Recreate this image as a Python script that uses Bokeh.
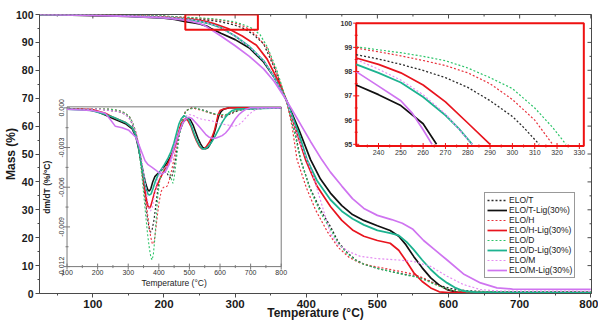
from math import pi
from bokeh.plotting import figure
from bokeh.models import Range1d, FixedTicker, Legend, LegendItem
from bokeh.embed import file_html
from bokeh.resources import INLINE
from bokeh.core.properties import value

# ---------------- TG curves: temperature (°C) vs residual mass (%) ----------------
elo_t_temp = [25, 100, 150, 200, 230, 240, 250, 260, 270, 280, 290, 300, 305, 312, 325, 340, 355, 372,
              385, 392, 405, 420, 434, 445, 458, 470, 481, 500, 520, 540, 556, 570, 579, 590, 603, 625, 650, 800]
elo_t_mass = [100, 99.9, 99.7, 99.3, 98.7, 98.52, 98.3, 98.05, 97.75, 97.35, 96.8, 96.15, 95.7, 95.0, 93.0, 89.5, 81.0, 69.3,
              57.0, 48.0, 38.0, 30.0, 24.0, 18.5, 14.5, 12.0, 10.5, 9.0, 7.8, 6.8, 6.0, 4.8, 3.8, 2.7, 1.8, 1.0, 0.7, 0.5]

elo_t_lig_temp = [25, 100, 150, 200, 215, 230, 240, 250, 260, 266, 280, 300, 320, 340, 355, 365, 372, 390, 406, 420,
                  434, 450, 465, 481, 500, 518, 530, 540, 551, 563, 575, 587, 598, 610, 625, 800]
elo_t_lig_mass = [100, 99.6, 99.3, 98.7, 98.2, 97.45, 97.05, 96.6, 95.85, 95.0, 93.3, 91.0, 88.0, 83.0, 77.5, 73.0, 69.3, 58.5, 48.0, 41.0,
                  36.0, 31.5, 28.3, 26.2, 24.3, 22.6, 20.5, 17.5, 13.3, 9.2, 5.6, 3.0, 1.4, 0.6, 0.3, 0.3]

elo_h_temp = [25, 100, 150, 200, 230, 240, 250, 260, 270, 280, 290, 300, 310, 318, 330, 345, 358, 372, 380, 387,
              400, 413, 430, 445, 460, 475, 490, 510, 530, 550, 565, 580, 595, 610, 630, 800]
elo_h_mass = [100, 99.9, 99.7, 99.4, 98.97, 98.82, 98.65, 98.46, 98.25, 97.95, 97.5, 96.85, 96.0, 95.0, 92.5, 88.0, 79.5, 69.3, 60.0, 48.0,
              38.0, 30.0, 22.0, 16.5, 13.0, 11.0, 10.0, 9.0, 8.0, 7.0, 5.5, 3.5, 1.8, 0.8, 0.4, 0.3]

elo_h_lig_temp = [25, 100, 150, 200, 230, 240, 250, 260, 270, 280, 290, 310, 330, 345, 360, 372, 385, 399, 415, 434,
                  450, 465, 481, 500, 518, 530, 540, 551, 563, 575, 587, 600, 800]
elo_h_lig_mass = [100, 99.8, 99.5, 99.1, 98.56, 98.3, 97.95, 97.45, 96.75, 95.88, 95.0, 92.3, 89.0, 84.0, 76.5, 69.3, 59.0, 48.0, 38.5, 31.2,
                  26.2, 22.8, 20.5, 19.0, 18.0, 15.5, 11.8, 7.5, 4.3, 2.0, 0.6, 0.3, 0.3]

elo_d_temp = [25, 100, 150, 200, 230, 240, 250, 260, 270, 280, 290, 300, 310, 318, 324, 335, 345, 358, 372, 384,
              392, 405, 420, 434, 445, 458, 470, 481, 500, 520, 540, 556, 570, 580, 590, 603, 625, 800]
elo_d_mass = [100, 99.9, 99.8, 99.5, 99.02, 98.9, 98.78, 98.63, 98.45, 98.15, 97.75, 97.3, 96.5, 95.7, 95.0, 92.8, 88.5, 80.5, 69.3, 57.0,
              48.0, 37.5, 29.0, 23.0, 18.0, 14.2, 11.8, 10.5, 9.0, 7.8, 6.6, 5.8, 4.5, 3.3, 2.3, 1.3, 0.6, 0.4]

elo_d_lig_temp = [25, 100, 150, 200, 230, 240, 250, 260, 270, 276, 282, 300, 320, 340, 355, 372, 390, 401, 415, 434,
                  450, 465, 481, 500, 518, 530, 541, 551, 563, 575, 587, 598, 610, 621, 640, 800]
elo_d_lig_mass = [100, 99.8, 99.4, 98.9, 98.3, 97.95, 97.55, 96.95, 96.2, 95.65, 95.0, 92.3, 88.5, 83.5, 77.5, 69.3, 57.0, 48.0, 40.5, 33.6,
                  29.5, 26.8, 24.6, 22.6, 21.6, 20.8, 18.5, 15.7, 12.0, 8.6, 5.8, 3.8, 2.0, 0.9, 0.4, 0.3]

elo_m_temp = [25, 100, 150, 200, 230, 240, 250, 260, 270, 282, 300, 320, 340, 355, 372, 390, 410, 424, 434, 445,
              460, 476, 500, 530, 551, 575, 598, 621, 645, 670, 800]
elo_m_mass = [100, 99.8, 99.6, 99.2, 98.5, 98.1, 97.65, 97.05, 96.25, 95.0, 92.3, 88.5, 83.5, 77.5, 69.3, 55.0, 42.0, 30.0, 21.5, 17.5,
              15.0, 13.3, 12.5, 12.0, 11.5, 9.7, 6.2, 3.2, 1.4, 0.9, 0.8]

elo_m_lig_temp = [25, 100, 150, 200, 230, 240, 250, 255, 260, 264, 280, 300, 320, 340, 355, 372, 390, 406, 422, 434,
                  450, 465, 481, 500, 520, 535, 550, 565, 580, 598, 621, 645, 668, 690, 800]
elo_m_lig_mass = [100, 99.7, 99.3, 98.8, 98.0, 97.4, 96.8, 96.3, 95.6, 95.0, 92.3, 88.8, 85.0, 80.5, 76.0, 69.3, 61.5, 54.5, 47.9, 43.5,
                  38.5, 34.0, 30.5, 28.0, 26.5, 25.2, 23.0, 19.0, 15.8, 12.0, 7.0, 3.8, 2.0, 1.6, 1.5]

# ---------------- DTG curves: temperature (°C) vs dm/dT (%/°C) ----------------
dtg_t_temp = [100, 200, 240, 270, 291, 305, 316, 326, 334, 342, 349, 356, 362, 368, 373, 378, 384, 390, 396, 402,
              410, 418, 426, 433, 439, 444, 449, 455, 462, 470, 478, 487, 497, 510, 530, 550, 574, 595, 607, 620,
              640, 660, 680, 800]
dtg_t_rate = [-0.0001, -0.0001, -0.0002, -0.0003, -0.0005, -0.0008, -0.0014, -0.0022, -0.0031, -0.0043, -0.0056, -0.0070,
              -0.0082, -0.0091, -0.0094, -0.0092, -0.0085, -0.0074, -0.0063, -0.0055, -0.0050, -0.0048, -0.0049, -0.0052,
              -0.0053, -0.0051, -0.0046, -0.0038, -0.0027, -0.0016, -0.0008, -0.0003, -0.0001, 0.0, -0.0001, -0.0002,
              -0.0004, -0.0006, -0.0007, -0.0006, -0.0004, -0.0002, -0.0001, 0.0]

dtg_t_lig_temp = [100, 150, 180, 200, 225, 250, 270, 291, 313, 325, 334, 343, 351, 358, 364, 369, 374, 380, 387, 395,
                  405, 416, 428, 438, 446, 454, 462, 471, 479, 487, 495, 503, 512, 520, 528, 536, 544, 553, 561, 569,
                  577, 585, 591, 596, 603, 612, 630, 800]
dtg_t_lig_rate = [-0.0001, -0.0001, -0.0002, -0.0003, -0.00055, -0.0008, -0.0010, -0.0012, -0.0016, -0.0022, -0.0031,
                  -0.0042, -0.0051, -0.0058, -0.0062, -0.0063, -0.0061, -0.0056, -0.0052, -0.0050, -0.0048, -0.0045,
                  -0.0041, -0.0037, -0.0033, -0.0028, -0.0022, -0.0016, -0.0011, -0.0009, -0.0008, -0.0009, -0.0013,
                  -0.0018, -0.0023, -0.0027, -0.0030, -0.0031, -0.0030, -0.0027, -0.0022, -0.0016, -0.0010, -0.0006,
                  -0.0003, -0.0001, 0.0, 0.0]

dtg_h_temp = [100, 200, 240, 270, 291, 305, 316, 326, 336, 345, 353, 360, 367, 373, 379, 384, 389, 395, 401, 408,
              415, 422, 428, 435, 443, 452, 460, 468, 477, 487, 497, 510, 540, 570, 600, 625, 645, 665, 800]
dtg_h_rate = [-0.0001, -0.0001, -0.0001, -0.0002, -0.0004, -0.0007, -0.0012, -0.0019, -0.0030, -0.0045, -0.0061, -0.0075,
              -0.0087, -0.0097, -0.0103, -0.0102, -0.0094, -0.0082, -0.0071, -0.0063, -0.0060, -0.0060, -0.0059, -0.0054,
              -0.0046, -0.0036, -0.0025, -0.0015, -0.0008, -0.0003, -0.0001, 0.0, -0.0002, -0.0004, -0.0006, -0.0005,
              -0.0003, -0.0001, 0.0]

dtg_h_lig_temp = [100, 180, 225, 250, 270, 291, 313, 325, 334, 343, 351, 358, 364, 369, 374, 380, 387, 395, 405, 416,
                  428, 438, 447, 456, 465, 473, 481, 488, 496, 505, 514, 523, 532, 541, 548, 556, 565, 574, 582, 589,
                  594, 600, 610, 630, 800]
dtg_h_lig_rate = [-0.0001, -0.0001, -0.0004, -0.0007, -0.0009, -0.0011, -0.0015, -0.0020, -0.0029, -0.0042, -0.0056,
                  -0.0067, -0.0074, -0.0076, -0.0074, -0.0069, -0.0063, -0.0058, -0.0053, -0.0048, -0.0043, -0.0038,
                  -0.0033, -0.0026, -0.0018, -0.0012, -0.0009, -0.0008, -0.0010, -0.0014, -0.0020, -0.0025, -0.0029,
                  -0.0031, -0.0031, -0.0029, -0.0026, -0.0022, -0.0017, -0.0010, -0.0005, -0.0002, -0.0001, 0.0, 0.0]

dtg_d_temp = [100, 200, 240, 270, 291, 305, 316, 326, 335, 343, 350, 357, 363, 369, 374, 378, 382, 387, 392, 397,
              403, 410, 418, 426, 434, 440, 446, 450, 455, 461, 467, 474, 482, 490, 500, 520, 545, 570, 596, 620,
              640, 662, 690, 800]
dtg_d_rate = [-0.0001, -0.0001, -0.0001, -0.0002, -0.0004, -0.0007, -0.0012, -0.0020, -0.0032, -0.0048, -0.0064, -0.0081,
              -0.0095, -0.0106, -0.0113, -0.0115, -0.0111, -0.0099, -0.0082, -0.0066, -0.0055, -0.0049, -0.0046, -0.0046,
              -0.0049, -0.0053, -0.0057, -0.0053, -0.0044, -0.0032, -0.0021, -0.0012, -0.0006, -0.0002, -0.0001, 0.0,
              -0.0002, -0.0004, -0.0005, -0.0005, -0.0003, -0.0002, -0.0001, 0.0]

dtg_d_lig_temp = [100, 180, 225, 250, 270, 291, 313, 325, 334, 343, 351, 358, 364, 369, 375, 381, 388, 397, 407, 418,
                  430, 440, 449, 458, 466, 474, 482, 490, 498, 507, 516, 525, 534, 543, 550, 558, 566, 575, 585, 596,
                  607, 618, 629, 640, 655, 800]
dtg_d_lig_rate = [-0.0001, -0.0002, -0.0005, -0.0007, -0.0009, -0.0011, -0.0015, -0.0021, -0.0030, -0.0042, -0.0053,
                  -0.0061, -0.0065, -0.0066, -0.0065, -0.0061, -0.0056, -0.0051, -0.0047, -0.0043, -0.0038, -0.0033,
                  -0.0027, -0.0019, -0.0012, -0.0008, -0.0006, -0.0007, -0.0009, -0.0014, -0.0020, -0.0025, -0.0029,
                  -0.0031, -0.0031, -0.0030, -0.0028, -0.0025, -0.0021, -0.0016, -0.0011, -0.0007, -0.0004, -0.0002,
                  -0.0001, 0.0]

dtg_m_temp = [100, 200, 240, 270, 291, 310, 325, 336, 346, 355, 362, 368, 373, 379, 386, 393, 402, 411, 420, 430,
              440, 450, 460, 470, 480, 490, 500, 515, 530, 550, 575, 600, 625, 645, 660, 675, 690, 705, 720, 740, 800]
dtg_m_rate = [-0.0001, -0.0001, -0.0002, -0.0003, -0.0005, -0.0010, -0.0018, -0.0028, -0.0042, -0.0056, -0.0068, -0.0076,
              -0.0078, -0.0075, -0.0066, -0.0057, -0.0050, -0.0046, -0.0045, -0.0044, -0.0041, -0.0035, -0.0026, -0.0017,
              -0.0010, -0.0006, -0.0005, -0.0006, -0.0008, -0.0009, -0.0010, -0.0012, -0.0013, -0.0014, -0.0013, -0.0010,
              -0.0006, -0.0003, -0.0001, 0.0, 0.0]

dtg_m_lig_temp = [100, 180, 204, 225, 242, 258, 280, 302, 324, 335, 345, 355, 365, 378, 390, 400, 411, 422, 433, 443,
                  451, 461, 470, 480, 490, 498, 508, 520, 531, 542, 553, 563, 575, 585, 596, 607, 618, 629, 640, 651,
                  662, 672, 685, 700, 800]
dtg_m_lig_rate = [-0.0001, -0.0002, -0.0003, -0.0004, -0.0009, -0.0014, -0.0015, -0.0017, -0.0022, -0.0028, -0.0034,
                  -0.0040, -0.0043, -0.0045, -0.0047, -0.0049, -0.0050, -0.0048, -0.0043, -0.0036, -0.0029, -0.0022,
                  -0.0016, -0.0011, -0.0008, -0.0007, -0.0008, -0.0011, -0.0014, -0.0017, -0.0020, -0.0022, -0.0023,
                  -0.0023, -0.0022, -0.0021, -0.0019, -0.0016, -0.0012, -0.0008, -0.0005, -0.0003, -0.0001, 0.0, 0.0]

# ---------------- series labels, axis ticks ----------------
series_labels = ["ELO/T", "ELO/T-Lig(30%)", "ELO/H", "ELO/H-Lig(30%)",
                 "ELO/D", "ELO/D-Lig(30%)", "ELO/M", "ELO/M-Lig(30%)"]

main_x_ticks = [100, 200, 300, 400, 500, 600, 700, 800]
main_x_minor = [50, 150, 250, 350, 450, 550, 650, 750]
main_y_ticks = [0, 10, 20, 30, 40, 50, 60, 70, 80, 90, 100]
main_y_minor = [5, 15, 25, 35, 45, 55, 65, 75, 85, 95]

dtg_x_ticks = [100, 200, 300, 400, 500, 600, 700, 800]
dtg_x_minor = [150, 250, 350, 450, 550, 650, 750]
dtg_x_labels = ["100", "200", "300", "400", "500", "600", "700", "800"]
dtg_y_ticks = [0.0, -0.003, -0.006, -0.009, -0.012]
dtg_y_minor = [-0.0015, -0.0045, -0.0075, -0.0105]
dtg_y_labels = ["0.000", "-0.003", "-0.006", "-0.009", "-0.012"]

zoom_x_ticks = [240, 250, 260, 270, 280, 290, 300, 310, 320, 330]
zoom_x_minor = [235, 245, 255, 265, 275, 285, 295, 305, 315, 325]
zoom_x_labels = ["240", "250", "260", "270", "280", "290", "300", "310", "320", "330"]
zoom_y_ticks = [95, 96, 97, 98, 99, 100]
zoom_y_minor = [95.5, 96.5, 97.5, 98.5, 99.5]
zoom_y_labels = ["95", "96", "97", "98", "99", "100"]

# ---------------- styling ----------------
FONT = "Liberation Sans"
AXIS_GREY = "#4a4a4a"
TXT = "#1a1a1a"

styles = [
    dict(color="#2b2b2b", dash="2 2", width=1.3),   # ELO/T
    dict(color="#111111", dash="solid", width=1.7),  # ELO/T-Lig
    dict(color="#e8323c", dash="2 2", width=1.2),   # ELO/H
    dict(color="#e8141e", dash="solid", width=1.7),  # ELO/H-Lig
    dict(color="#2ec46a", dash="2 2", width=1.2),   # ELO/D
    dict(color="#1db390", dash="solid", width=1.8),  # ELO/D-Lig
    dict(color="#e58df2", dash="2 2", width=1.2),   # ELO/M
    dict(color="#cf74f0", dash="solid", width=1.7),  # ELO/M-Lig
]

tg_series = [(elo_t_temp, elo_t_mass), (elo_t_lig_temp, elo_t_lig_mass),
             (elo_h_temp, elo_h_mass), (elo_h_lig_temp, elo_h_lig_mass),
             (elo_d_temp, elo_d_mass), (elo_d_lig_temp, elo_d_lig_mass),
             (elo_m_temp, elo_m_mass), (elo_m_lig_temp, elo_m_lig_mass)]
dtg_series = [(dtg_t_temp, dtg_t_rate), (dtg_t_lig_temp, dtg_t_lig_rate),
              (dtg_h_temp, dtg_h_rate), (dtg_h_lig_temp, dtg_h_lig_rate),
              (dtg_d_temp, dtg_d_rate), (dtg_d_lig_temp, dtg_d_lig_rate),
              (dtg_m_temp, dtg_m_rate), (dtg_m_lig_temp, dtg_m_lig_rate)]

# ---------------- main TG figure ----------------
X0, X1 = 25, 801
p = figure(width=598, height=322, output_backend="svg", toolbar_location=None,
           x_range=Range1d(X0, X1), y_range=Range1d(0, 100),
           min_border_left=0, min_border_right=7, min_border_top=14, min_border_bottom=0,
           background_fill_color="white", border_fill_color="white")
p.grid.visible = False
p.outline_line_color = AXIS_GREY
p.outline_line_width = 1

xa = p.xaxis[0]
ya = p.yaxis[0]
xa.ticker = FixedTicker(ticks=main_x_ticks, minor_ticks=main_x_minor)
ya.ticker = FixedTicker(ticks=main_y_ticks, minor_ticks=main_y_minor)
for ax in (xa, ya):
    ax.axis_line_color = AXIS_GREY
    ax.major_tick_line_color = AXIS_GREY
    ax.minor_tick_line_color = AXIS_GREY
    ax.major_tick_out = 4
    ax.major_tick_in = 0
    ax.minor_tick_out = 2
    ax.minor_tick_in = 0
    ax.major_label_text_font = FONT
    ax.major_label_text_font_style = "bold"
    ax.major_label_text_color = TXT
    ax.axis_label_text_font = FONT
    ax.axis_label_text_font_style = "bold"
    ax.axis_label_text_color = TXT
    ax.major_label_standoff = 2
xa.axis_label_standoff = -5
ya.axis_label_standoff = -5
xa.major_label_text_font_size = "11.5px"
ya.major_label_text_font_size = "10.5px"
xa.axis_label = "Temperature (°C)"
ya.axis_label = "Mass (%)"
xa.axis_label_text_font_size = "12px"
ya.axis_label_text_font_size = "12px"

# inward ticks on the top and right edges of the frame (half of each dash is clipped away)
p.scatter(x=main_x_ticks, y=[100] * len(main_x_ticks), marker="dash", angle=pi / 2, size=8,
          line_color=AXIS_GREY)
p.scatter(x=main_x_minor, y=[100] * len(main_x_minor), marker="dash", angle=pi / 2, size=4,
          line_color=AXIS_GREY)
p.scatter(x=[X1] * len(main_y_ticks), y=main_y_ticks, marker="dash", size=8, line_color=AXIS_GREY)
p.scatter(x=[X1] * len(main_y_minor), y=main_y_minor, marker="dash", size=4, line_color=AXIS_GREY)

renderers = []
for (tx, my), st in zip(tg_series, styles):
    r = p.line(tx, my, line_color=st["color"], line_width=st["width"], line_dash=st["dash"])
    renderers.append(r)

# zoom window marker on the main plot
ZOOM_T0, ZOOM_T1 = 230, 332
ZOOM_M0, ZOOM_M1 = 94.93, 100
p.quad(left=[ZOOM_T0], right=[ZOOM_T1], bottom=[94.5], top=[ZOOM_M1],
       fill_color=None, line_color="#ee1111", line_width=2)

legend = Legend(items=[LegendItem(label=lab, renderers=[r]) for lab, r in zip(series_labels, renderers)],
                location=(445, 15), label_text_font=FONT, label_text_font_size="8.5px",
                label_text_color=TXT, label_height=10, glyph_height=10, glyph_width=20,
                label_standoff=2, spacing=0, padding=2, margin=0,
                border_line_color="#333333", border_line_width=1, background_fill_alpha=1)
p.add_layout(legend)

# ---------------- DTG inset (lower left) ----------------
DTG_TOP = 0.000075
dtg = p.subplot(x_source=Range1d(100, 800), y_source=Range1d(-0.012, DTG_TOP),
                x_target=Range1d(63.7, 364.8), y_target=Range1d(9.64, 66.9))
dtg.quad(left=[100], right=[800], bottom=[-0.012], top=[DTG_TOP],
         fill_color="white", line_color="#7a7a7a", line_width=1)
for (tx, rt), st in zip(dtg_series, styles):
    dtg.line(tx, rt, line_color=st["color"], line_width=st["width"] * 0.9, line_dash=st["dash"])
dtg.scatter(x=dtg_x_ticks, y=[-0.012] * len(dtg_x_ticks), marker="dash", angle=pi / 2,
            size=6, line_color="#7a7a7a")
dtg.scatter(x=dtg_x_minor, y=[-0.012] * len(dtg_x_minor), marker="dash", angle=pi / 2,
            size=3, line_color="#7a7a7a")
dtg.scatter(x=[100] * len(dtg_y_ticks), y=dtg_y_ticks, marker="dash", size=6, line_color="#7a7a7a")
dtg.scatter(x=[100] * len(dtg_y_minor), y=dtg_y_minor, marker="dash", size=3, line_color="#7a7a7a")
dtg.text(x=dtg_x_ticks, y=[-0.012] * len(dtg_x_ticks), text=dtg_x_labels,
         text_align="center", text_baseline="top", y_offset=3,
         text_font=value(FONT), text_font_size="7px", text_color="#333333")
dtg.text(x=[100] * len(dtg_y_ticks), y=dtg_y_ticks, text=dtg_y_labels, angle=pi / 2,
         text_align="center", text_baseline="bottom", x_offset=-3,
         text_font=value(FONT), text_font_size="7px", text_color="#333333")
dtg.text(x=[450], y=[-0.012], text=["Temperature (°C)"], text_align="center", text_baseline="top",
         y_offset=11, text_font=value(FONT), text_font_size="8.5px", text_color="#222222")
dtg.text(x=[100], y=[-0.006], text=["dm/dT (%/°C)"], angle=pi / 2, text_align="center",
         text_baseline="bottom", x_offset=-15, text_font=value(FONT), text_font_size="8.5px",
         text_font_style="bold", text_color="#222222")

# ---------------- zoomed onset inset (upper right) ----------------
zm = p.subplot(x_source=Range1d(ZOOM_T0, ZOOM_T1), y_source=Range1d(ZOOM_M0, ZOOM_M1),
               x_target=Range1d(470.2, 790.2), y_target=Range1d(52.86, 96.9))
zm.quad(left=[ZOOM_T0], right=[ZOOM_T1], bottom=[ZOOM_M0], top=[ZOOM_M1],
        fill_color="white", line_color="#ee1111", line_width=2)
for (tx, my), st in zip(tg_series, styles):
    keep = [(a, b) for a, b in zip(tx, my) if ZOOM_T0 <= a <= ZOOM_T1 and b >= 95.0]
    zm.line([a for a, _ in keep], [b for _, b in keep], line_color=st["color"],
            line_width=st["width"], line_dash=st["dash"])
zm.scatter(x=zoom_x_ticks, y=[ZOOM_M0] * len(zoom_x_ticks), marker="dash", angle=pi / 2,
           size=6, line_color="#ee1111")
zm.scatter(x=zoom_x_minor, y=[ZOOM_M0] * len(zoom_x_minor), marker="dash",
           angle=pi / 2, size=3, line_color="#ee1111")
zm.scatter(x=[ZOOM_T0] * len(zoom_y_ticks), y=zoom_y_ticks, marker="dash", size=6, line_color="#ee1111")
zm.scatter(x=[ZOOM_T0] * len(zoom_y_minor), y=zoom_y_minor, marker="dash", size=3, line_color="#ee1111")
zm.text(x=zoom_x_ticks, y=[ZOOM_M0] * len(zoom_x_ticks), text=zoom_x_labels,
        text_align="center", text_baseline="top", y_offset=4,
        text_font=value(FONT), text_font_size="7px", text_color="#333333")
zm.text(x=[ZOOM_T0] * len(zoom_y_ticks), y=zoom_y_ticks, text=zoom_y_labels,
        text_align="right", text_baseline="middle", x_offset=-4,
        text_font=value(FONT), text_font_size="7px", text_font_style="bold", text_color="#333333")

open("out.html", "w").write(file_html(p, INLINE))
